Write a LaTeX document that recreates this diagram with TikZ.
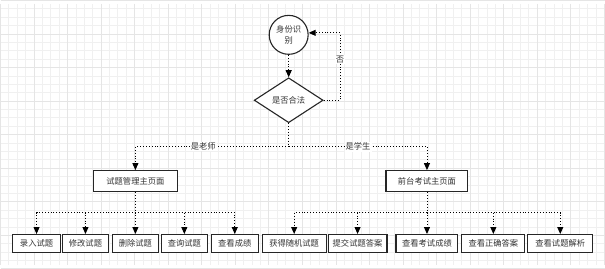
\documentclass[tikz,border=0pt]{standalone}
\usepackage{fontspec}
\setmainfont{Noto Sans CJK SC}
\usetikzlibrary{arrows.meta,shapes.geometric}
\begin{document}
\begin{tikzpicture}[x=1pt,y=-1pt,
  font=\fontsize{8.3}{10}\selectfont,
  box/.style={draw=black!85,line width=1.1pt,fill=white,minimum height=#1,inner sep=0pt,text=black!80},
  box/.default=18,
  conn/.style={dotted,line width=0.9pt,-{Triangle[width=6pt,length=7pt]}},
  seg/.style={dotted,line width=0.9pt},
  lab/.style={fill=white,inner sep=1pt,text=black!80}]
\fill[white] (0,0) rectangle (605,261);
\foreach \i in {0,...,72}{\draw[black!6,line width=0.5pt] ({-0.3+8.4*\i},0) -- ++(0,261);}
\foreach \i in {0,...,31}{\draw[black!6,line width=0.5pt] (0,{4.8+8.4*\i}) -- ++(605,0);}
\foreach \i in {0,...,18}{\draw[black!10,line width=0.6pt] ({-0.3+33.6*\i},0) -- ++(0,261);}
\foreach \i in {0,...,8}{\draw[black!10,line width=0.6pt] (0,{-3.6+33.6*\i}) -- ++(605,0);}
\useasboundingbox (0,0) rectangle (605,261);
% top
\node[circle,draw=black!85,line width=1.1pt,fill=white,minimum size=39,inner sep=0pt,align=center,text=black!80,font=\fontsize{8.3}{11}\selectfont] (id) at (288.5,31) {身份识\\别};
\node[diamond,draw=black!85,line width=1.1pt,fill=white,minimum width=69,minimum height=45,inner sep=0pt,text=black!80,aspect=1.53] (ok) at (288.5,96.5) {是否合法};
\draw[conn] (id) -- (ok);
\coordinate (r1) at (340,96.5);
\coordinate (r2) at (340,29);
\draw[conn] (ok.east) -- (r1) -- (r2) -- (id.east |- r2);
\node[lab] (no) at (340,56) {否};
% mid
\node[box=21,minimum width=84] (tm) at (135,177.5) {试题管理主页面};
\node[box=21,minimum width=82] (sm) at (427,177.5) {前台考试主页面};
\coordinate (m0) at (288.5,143);
\draw[seg] (ok.south) -- (m0);
\draw[conn] (m0) -- (tm.north |- m0) -- (tm.north);
\draw[conn] (m0) -- (sm.north |- m0) -- (sm.north);
\node[lab] (lt) at (203,143) {是老师};
\node[lab] (ls) at (358,143) {是学生};
% bottom left
\node[box,minimum width=48] (a1) at (36,240) {录入试题};
\node[box,minimum width=46] (a2) at (85,240) {修改试题};
\node[box,minimum width=46] (a3) at (135,240) {删除试题};
\node[box,minimum width=46] (a4) at (184,240) {查询试题};
\node[box,minimum width=47] (a5) at (234.5,240) {查看成绩};
\coordinate (lh) at (135,209);
\draw[seg] (tm.south) -- (lh);
\foreach \n in {a1,a2,a3,a4,a5}{\draw[conn] (lh) -- (\n.north |- lh) -- (\n.north);}
% bottom right
\node[box,minimum width=64] (b1) at (294,240) {获得随机试题};
\node[box,minimum width=59] (b2) at (357.5,240) {提交试题答案};
\node[box,minimum width=62] (b3) at (427,240) {查看考试成绩};
\node[box,minimum width=63] (b4) at (493.5,240) {查看正确答案};
\node[box,minimum width=65] (b5) at (560.5,240) {查看试题解析};
\coordinate (rh) at (427,209);
\draw[seg] (sm.south) -- (rh);
\foreach \n in {b1,b2,b3,b4,b5}{\draw[conn] (rh) -- (\n.north |- rh) -- (\n.north);}
\end{tikzpicture}
\end{document}
